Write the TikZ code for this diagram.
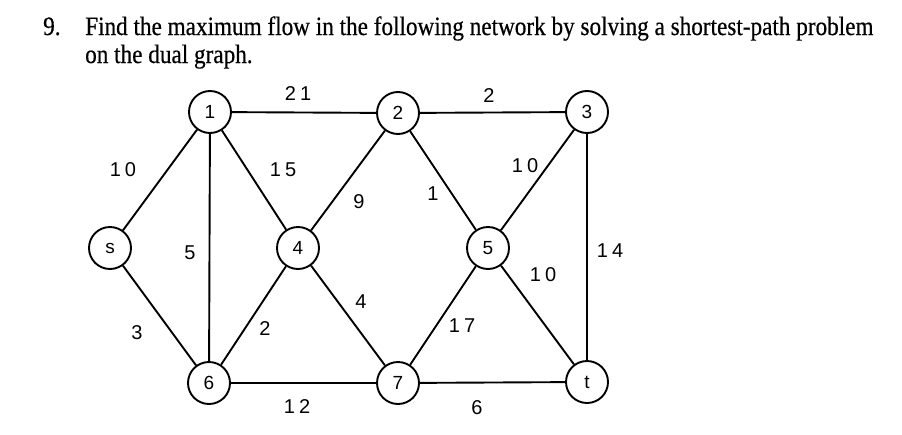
\documentclass[tikz,border=0pt]{standalone}
\usepackage{fontspec}
\setmainfont{Liberation Serif}
\newfontfamily\titlefont[FakeStretch=0.875,FakeBold=0.5]{Liberation Serif}
\newfontfamily\labfont{Liberation Sans}
\newcommand{\dg}{\hspace{4pt}}
\begin{document}
\begin{tikzpicture}[x=1pt,y=-1pt,
  vert/.style={circle,draw,line width=1.9pt,minimum size=42pt,inner sep=0pt,font=\labfont\fontsize{19}{19}\selectfont},
  edge/.style={line width=1.9pt},
  lbl/.style={font=\labfont\fontsize{20}{20}\selectfont,inner sep=0pt},
  ttl/.style={font=\titlefont\fontsize{26.5}{26.5}\selectfont,inner sep=0pt,anchor=base west}]
\useasboundingbox (0,0) rectangle (902,434);
\node[ttl] (num) at (43,35) {9.};
\node[ttl] (line1) at (85,35) {Find the maximum flow in the following network by solving a shortest-path problem};
\node[ttl] (line2) at (85,63) {on the dual graph.};
\node[vert] (s) at (110,248) {s};
\node[vert] (n1) at (210,112) {1};
\node[vert] (n2) at (398,113) {2};
\node[vert] (n3) at (587,112) {3};
\node[vert] (n4) at (298,248) {4};
\node[vert] (n5) at (488,248) {5};
\node[vert] (n6) at (209,383) {6};
\node[vert] (n7) at (398,383) {7};
\node[vert] (t) at (587,382) {t};
\draw[edge] (s) -- (n1);
\draw[edge] (s) -- (n6);
\draw[edge] (n1) -- (n2);
\draw[edge] (n1) -- (n6);
\draw[edge] (n1) -- (n4);
\draw[edge] (n2) -- (n4);
\draw[edge] (n2) -- (n5);
\draw[edge] (n2) -- (n3);
\draw[edge] (n3) -- (n5);
\draw[edge] (n3) -- (t);
\draw[edge] (n4) -- (n6);
\draw[edge] (n4) -- (n7);
\draw[edge] (n5) -- (n7);
\draw[edge] (n5) -- (t);
\draw[edge] (n6) -- (n7);
\draw[edge] (n7) -- (t);
\node[lbl] (l21) at (298,94) {2\dg1};
\node[lbl] (l10a) at (123,170) {1\dg0};
\node[lbl] (l15) at (283,170) {1\dg5};
\node[lbl] (l5) at (190,253) {5};
\node[lbl] (l3) at (137,333) {3};
\node[lbl] (l2a) at (265,329) {2};
\node[lbl] (l12) at (297,407) {1\dg2};
\node[lbl] (l2b) at (489,96) {2};
\node[lbl] (l10b) at (525,166) {1\dg0};
\node[lbl] (l9) at (359,202) {9};
\node[lbl] (l1) at (433,194) {1};
\node[lbl] (l14) at (610,251) {1\dg4};
\node[lbl] (l10c) at (543,275) {1\dg0};
\node[lbl] (l4) at (361,302) {4};
\node[lbl] (l17) at (462,326) {1\dg7};
\node[lbl] (l6) at (477,408) {6};
\end{tikzpicture}
\end{document}
